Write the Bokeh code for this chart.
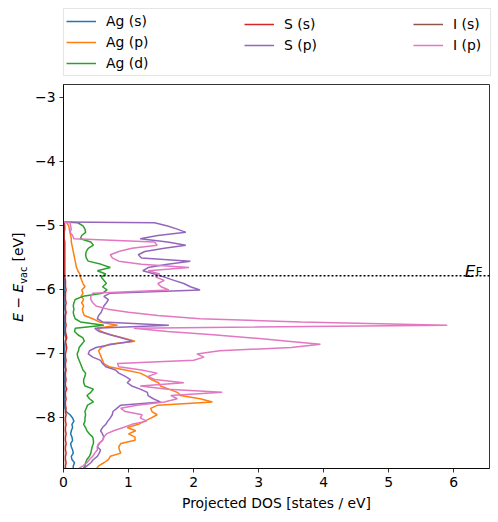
import numpy as np
from bokeh.plotting import figure
from bokeh.layouts import column, row
from bokeh.models import Legend, LegendItem, Span, Label, FixedTicker, Range1d
from bokeh.core.properties import value
from bokeh.embed import file_html
from bokeh.resources import INLINE

# Energy grid (eV, relative to vacuum), bottom to top
energy = [-8.81, -8.76, -8.71, -8.66, -8.61, -8.56, -8.51, -8.46, -8.41, -8.36,
          -8.31, -8.26, -8.21, -8.16, -8.11, -8.06, -8.01, -7.96, -7.91, -7.86,
          -7.81, -7.76, -7.71, -7.66, -7.61, -7.56, -7.51, -7.46, -7.41, -7.36,
          -7.31, -7.26, -7.21, -7.16, -7.11, -7.06, -7.01, -6.96, -6.91, -6.86,
          -6.81, -6.76, -6.71, -6.66, -6.61, -6.56, -6.51, -6.46, -6.41, -6.36,
          -6.31, -6.26, -6.21, -6.16, -6.11, -6.06, -6.01, -5.96, -5.91, -5.86,
          -5.81, -5.76, -5.71, -5.66, -5.61, -5.56, -5.51, -5.46, -5.41, -5.36,
          -5.31, -5.26, -5.21, -5.16, -5.11, -5.06, -5.01, -4.96, -4.95]

ag_s = [0.15, 0.15, 0.17, 0.13, 0.12, 0.15, 0.14, 0.12, 0.11, 0.14,
        0.13, 0.11, 0.12, 0.14, 0.13, 0.16, 0.14, 0.10, 0.04, 0.02,
        0.02, 0.01, 0.01, 0.02, 0.01, 0.02, 0.01, 0.01, 0.02, 0.01,
        0.02, 0.03, 0.02, 0.01, 0.02, 0.01, 0.01, 0.01, 0.02, 0.02,
        0.03, 0.04, 0.02, 0.01, 0.01, 0.02, 0.01, 0.01, 0.02, 0.03,
        0.02, 0.01, 0.01, 0.01, 0.01, 0.02, 0.01, 0.01, 0.01, 0.01,
        0.01, 0.01, 0.01, 0.01, 0.01, 0.01, 0.01, 0.01, 0.01, 0.01,
        0.01, 0.01, 0.01, 0.01, 0.01, 0.02, 0.02, 0.01, 0.0]

ag_p = [0.50, 0.54, 0.62, 0.69, 0.72, 0.88, 0.86, 0.85, 0.88, 1.10,
        1.10, 1.00, 1.11, 0.98, 1.15, 1.25, 1.35, 1.44, 1.36, 1.34,
        1.45, 2.29, 2.10, 1.80, 1.75, 1.62, 1.49, 1.46, 1.35, 1.28,
        1.18, 0.95, 0.70, 0.62, 0.60, 0.58, 0.56, 0.54, 0.58, 0.70,
        1.10, 0.92, 0.72, 0.58, 0.52, 0.83, 0.55, 0.45, 0.32, 0.30,
        0.29, 0.31, 0.28, 0.31, 0.27, 0.30, 0.28, 0.33, 0.30, 0.28,
        0.26, 0.25, 0.22, 0.20, 0.19, 0.18, 0.17, 0.16, 0.15, 0.14,
        0.13, 0.12, 0.12, 0.11, 0.10, 0.09, 0.08, 0.05, 0.0]

ag_d = [0.30, 0.33, 0.34, 0.36, 0.40, 0.42, 0.43, 0.44, 0.46, 0.46,
        0.45, 0.40, 0.36, 0.34, 0.31, 0.33, 0.33, 0.34, 0.33, 0.35,
        0.37, 0.46, 0.40, 0.36, 0.42, 0.46, 0.33, 0.31, 0.31, 0.33,
        0.34, 0.30, 0.28, 0.26, 0.24, 0.22, 0.21, 0.23, 0.24, 0.28,
        0.32, 0.30, 0.22, 0.17, 0.18, 0.62, 0.26, 0.18, 0.16, 0.15,
        0.16, 0.15, 0.16, 0.18, 0.30, 0.60, 0.67, 0.60, 0.66, 0.62,
        0.58, 0.65, 0.52, 0.72, 0.58, 0.38, 0.35, 0.34, 0.35, 0.38,
        0.46, 0.42, 0.26, 0.28, 0.34, 0.33, 0.30, 0.22, 0.0]

s_s = [0.03, 0.03, 0.04, 0.03, 0.03, 0.04, 0.03, 0.03, 0.04, 0.03,
       0.03, 0.04, 0.03, 0.03, 0.04, 0.03, 0.03, 0.04, 0.03, 0.04,
       0.03, 0.03, 0.04, 0.03, 0.03, 0.05, 0.03, 0.03, 0.04, 0.03,
       0.03, 0.04, 0.03, 0.03, 0.04, 0.03, 0.03, 0.04, 0.05, 0.04,
       0.03, 0.05, 0.04, 0.03, 0.03, 0.04, 0.03, 0.03, 0.03, 0.04,
       0.03, 0.03, 0.04, 0.03, 0.03, 0.03, 0.04, 0.03, 0.03, 0.03,
       0.02, 0.02, 0.02, 0.02, 0.02, 0.02, 0.02, 0.02, 0.02, 0.02,
       0.02, 0.02, 0.01, 0.01, 0.01, 0.01, 0.01, 0.01, 0.0]

s_p = [0.30, 0.36, 0.42, 0.46, 0.52, 0.55, 0.57, 0.52, 0.55, 0.60,
       0.62, 0.60, 0.57, 0.60, 0.65, 0.68, 0.72, 0.75, 0.76, 0.82,
       0.88, 1.49, 1.38, 1.30, 1.29, 1.18, 1.05, 0.98, 1.03, 0.95,
       0.85, 0.80, 0.65, 0.60, 0.57, 0.45, 0.38, 0.40, 0.50, 0.75,
       1.06, 0.90, 0.72, 0.55, 0.48, 1.62, 0.60, 0.52, 0.54, 0.58,
       0.60, 0.62, 0.66, 0.69, 0.62, 0.72, 2.10, 1.95, 1.85, 1.70,
       1.55, 1.40, 1.22, 1.30, 1.60, 1.95, 1.20, 1.15, 1.25, 1.55,
       1.88, 1.60, 1.18, 1.45, 1.88, 1.75, 1.60, 1.40, 0.0]

i_s = [0.0, 0.0, 0.0, 0.0, 0.0, 0.0, 0.0, 0.0, 0.0, 0.0,
       0.0, 0.0, 0.0, 0.0, 0.0, 0.0, 0.0, 0.0, 0.0, 0.0,
       0.0, 0.0, 0.0, 0.0, 0.0, 0.0, 0.0, 0.0, 0.0, 0.0,
       0.0, 0.0, 0.0, 0.0, 0.0, 0.0, 0.0, 0.0, 0.0, 0.0,
       0.0, 0.0, 0.0, 0.0, 0.0, 0.0, 0.0, 0.0, 0.0, 0.0,
       0.0, 0.0, 0.0, 0.0, 0.0, 0.0, 0.0, 0.0, 0.0, 0.0,
       0.0, 0.0, 0.0, 0.0, 0.0, 0.0, 0.0, 0.0, 0.0, 0.0,
       0.0, 0.0, 0.0, 0.0, 0.0, 0.0, 0.0, 0.0, 0.0]

i_p = [0.22, 0.30, 0.36, 0.40, 0.45, 0.48, 0.52, 0.52, 0.54, 0.60,
       0.62, 0.66, 0.77, 0.92, 1.05, 1.28, 1.18, 1.21, 0.95, 0.88,
       1.13, 1.55, 1.75, 1.65, 2.44, 1.60, 1.18, 1.85, 1.40, 1.30,
       1.44, 1.20, 0.85, 0.83, 2.00, 2.16, 2.05, 2.40, 3.50, 3.95,
       3.45, 2.90, 2.30, 1.60, 1.08, 5.90, 3.65, 2.10, 1.45, 1.00,
       0.68, 0.50, 0.45, 0.42, 0.42, 0.45, 1.62, 1.50, 1.45, 1.55,
       1.42, 1.48, 1.30, 1.93, 1.20, 0.85, 0.75, 0.72, 0.85, 1.05,
       1.44, 1.40, 0.16, 0.14, 0.10, 0.12, 0.11, 0.10, 0.0]

fermi_level = -5.79
x_ticks = [0, 1, 2, 3, 4, 5, 6]
y_ticks = [-8, -7, -6, -5, -4, -3]

series = [
    ("Ag (s)", ag_s, "#1f77b4"),
    ("Ag (p)", ag_p, "#ff7f0e"),
    ("Ag (d)", ag_d, "#2ca02c"),
    ("S (s)", s_s, "#d62728"),
    ("S (p)", s_p, "#9467bd"),
    ("I (s)", i_s, "#8c564b"),
    ("I (p)", i_p, "#e377c2"),
]

FONT = "DejaVu Sans"
FS = "13.9px"
W_LAB = 30
H_MAIN = 440
H_LEG = 82
Y_LO, Y_HI = -8.80, -2.80


def blank_fig(w, h, yr, **kw):
    f = figure(width=w, height=h, output_backend="svg", toolbar_location=None,
               x_range=Range1d(0, w), y_range=yr,
               x_axis_type=None, y_axis_type=None, **kw)
    f.grid.visible = False
    f.outline_line_color = None
    return f


# ---------------- main plot ----------------
p = figure(width=498 - W_LAB, height=H_MAIN, output_backend="svg", toolbar_location=None,
           x_range=Range1d(0, 6.55), y_range=Range1d(Y_LO, Y_HI),
           min_border_left=63 - W_LAB, min_border_right=9, min_border_top=2,
           min_border_bottom=54)
p.grid.visible = False
p.outline_line_color = "black"
p.outline_line_width = 0.8
p.outline_line_alpha = 1.0

for name, vals, col in series:
    p.line(vals, energy, line_color=col, line_width=1.5)

p.add_layout(Span(location=fermi_level, dimension="width", line_color="black",
                  line_dash="2 2", line_width=1.5))

p.xaxis.ticker = FixedTicker(ticks=x_ticks)
p.yaxis.ticker = FixedTicker(ticks=y_ticks)
p.yaxis.major_label_overrides = {t: ("\u2212" + str(abs(t)) if t < 0 else str(t)) for t in y_ticks}
for ax in (p.xaxis, p.yaxis):
    ax.minor_tick_line_color = None
    ax.major_tick_out = 4
    ax.major_tick_in = 0
    ax.major_tick_line_width = 0.8
    ax.axis_line_width = 0.8
    ax.major_label_text_font = FONT
    ax.major_label_text_font_size = FS
    ax.major_label_text_color = "black"
    ax.major_label_standoff = 4
p.xaxis.axis_label = "Projected DOS [states / eV]"
p.xaxis.axis_label_text_font = FONT
p.xaxis.axis_label_text_font_size = FS
p.xaxis.axis_label_text_font_style = "normal"
p.xaxis.axis_label_text_color = "black"
p.xaxis.axis_label_standoff = 5

# Fermi level label
p.add_layout(Label(x=6.169, y=-5.708, text="E", text_font=FONT, text_font_style="italic",
                   text_font_size="16.7px", text_color="black",
                   text_baseline="alphabetic", text_align="left"))
p.add_layout(Label(x=6.338, y=-5.731, text="F", text_font=FONT,
                   text_font_size="11.7px", text_color="black",
                   text_baseline="alphabetic", text_align="left"))

# ---------------- y-axis label strip: same vertical borders and energy range as main plot ----------------
ylab = blank_fig(W_LAB, H_MAIN, Range1d(Y_LO, Y_HI),
                 min_border_left=0, min_border_right=0, min_border_top=2, min_border_bottom=54)
ang = np.pi / 2
ylab.text(x=[17.8], y=[-6.21], text=["E \u2212 E"], angle=ang,
          text_font=value(FONT), text_font_style="italic", text_font_size="13.9px",
          text_color="black", text_baseline="middle", text_align="center")
ylab.text(x=[22.6], y=[-5.78], text=["vac"], angle=ang,
          text_font=value(FONT), text_font_size="9.7px",
          text_color="black", text_baseline="middle", text_align="center")
ylab.text(x=[17.8], y=[-5.34], text=["[eV]"], angle=ang,
          text_font=value(FONT), text_font_size="13.9px",
          text_color="black", text_baseline="middle", text_align="center")

# ---------------- legend strip ----------------
leg_fig = blank_fig(498, H_LEG, Range1d(0, H_LEG), min_border=0)
leg_rends = {}
for name, vals, col in series:
    # proxies (outside this strip's visible range) that carry the line styles
    leg_rends[name] = leg_fig.line(vals, energy, line_color=col, line_width=1.5)

common = dict(padding=2, spacing=1, glyph_width=30, glyph_height=20, label_height=20,
              label_standoff=10, label_text_font=FONT, label_text_font_size=FS,
              label_text_color="black", margin=0)
groups = [
    (["Ag (s)", "Ag (p)", "Ag (d)"], (63, H_LEG - 76), True),
    (["S (s)", "S (p)"], (244, H_LEG - 76 + 21), False),
    (["I (s)", "I (p)"], (413, H_LEG - 76 + 21), False),
]
for names, loc, boxed in groups:
    items = [LegendItem(label=n, renderers=[leg_rends[n]]) for n in names]
    if boxed:
        leg = Legend(items=items, location=loc, label_width=382,
                     border_line_color="#cccccc", border_line_width=1,
                     background_fill_color="white", background_fill_alpha=0.8, **common)
    else:
        leg = Legend(items=items, location=loc, label_width=20,
                     border_line_color=None, background_fill_alpha=0.0, **common)
    leg_fig.add_layout(leg)

layout = column(leg_fig, row(ylab, p, spacing=0), spacing=0)
open("out.html", "w").write(file_html(layout, INLINE))
